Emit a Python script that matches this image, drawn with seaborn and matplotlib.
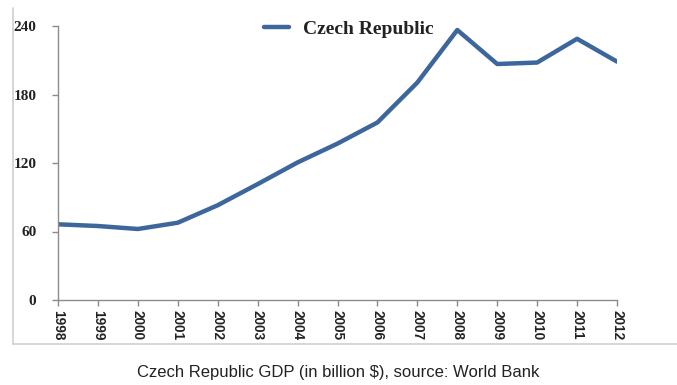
import matplotlib
matplotlib.use("Agg")
import matplotlib.pyplot as plt
from matplotlib.lines import Line2D
import seaborn as sns
import pandas as pd

years = [1998, 1999, 2000, 2001, 2002, 2003, 2004, 2005, 2006, 2007, 2008, 2009, 2010, 2011, 2012]
gdp = [66.3, 64.8, 62.2, 67.7, 83.0, 101.5, 120.5, 137.0, 155.5, 190.5, 236.5, 206.7, 208.0, 228.8, 208.8]
series_name = "Czech Republic"
y_ticks = [0, 60, 120, 180, 240]
caption = "Czech Republic GDP (in billion $), source: World Bank"

df = pd.DataFrame({"year": years, "gdp": gdp, "country": series_name})

sns.set_theme(style="white")
plt.rcParams["font.family"] = ["Liberation Serif", "DejaVu Serif"]

fig = plt.figure(figsize=(6.77, 3.85), dpi=100)
ax = fig.add_axes([58/677, 1-300/385, (617-58)/677, (300-26)/385])

sns.lineplot(data=df, x="year", y="gdp", hue="country", palette=["#3d679c"],
             linewidth=3.2, ax=ax, legend=True)

ax.set_xlim(years[0], years[-1])
ax.set_ylim(0, 240)
ax.set_yticks(y_ticks)
ax.set_yticklabels([str(v) for v in y_ticks], fontsize=11, fontweight="bold",
                   family="Liberation Serif", color="#222222")
ax.set_xticks(years)
ax.set_xticklabels([str(y) for y in years], rotation=270, fontsize=9.8,
                   fontweight="bold", family="Liberation Sans", color="#222222")
ax.set_xlabel("")
ax.set_ylabel("")

for s in ["top", "right"]:
    ax.spines[s].set_visible(False)
for s in ["left", "bottom"]:
    ax.spines[s].set_color("#8c8c8c")
    ax.spines[s].set_linewidth(1.0)
ax.tick_params(axis="both", which="major", direction="out", length=4, width=1,
               color="#8c8c8c", left=True, bottom=True)
ax.tick_params(axis="y", pad=11.5)
ax.tick_params(axis="x", pad=3)

leg = ax.legend(loc="center", bbox_to_anchor=(0.52, 0.99), frameon=False,
                prop={"family": "Liberation Serif", "weight": "bold", "size": 14},
                handlelength=1.3, handletextpad=0.7)
for t in leg.get_texts():
    t.set_color("#222222")

fig.text(338/677, 1-372/385, caption, ha="center", va="center",
         fontsize=12, family="Liberation Sans", color="#222222")

fig.add_artist(Line2D([13/677, 13/677], [1-8/385, 1-344/385],
                      transform=fig.transFigure, color="#d0d0d0", linewidth=1.2))
fig.add_artist(Line2D([13/677, 1.0], [1-344/385, 1-344/385],
                      transform=fig.transFigure, color="#d0d0d0", linewidth=1.2))

fig.savefig("out.png", dpi=100)
